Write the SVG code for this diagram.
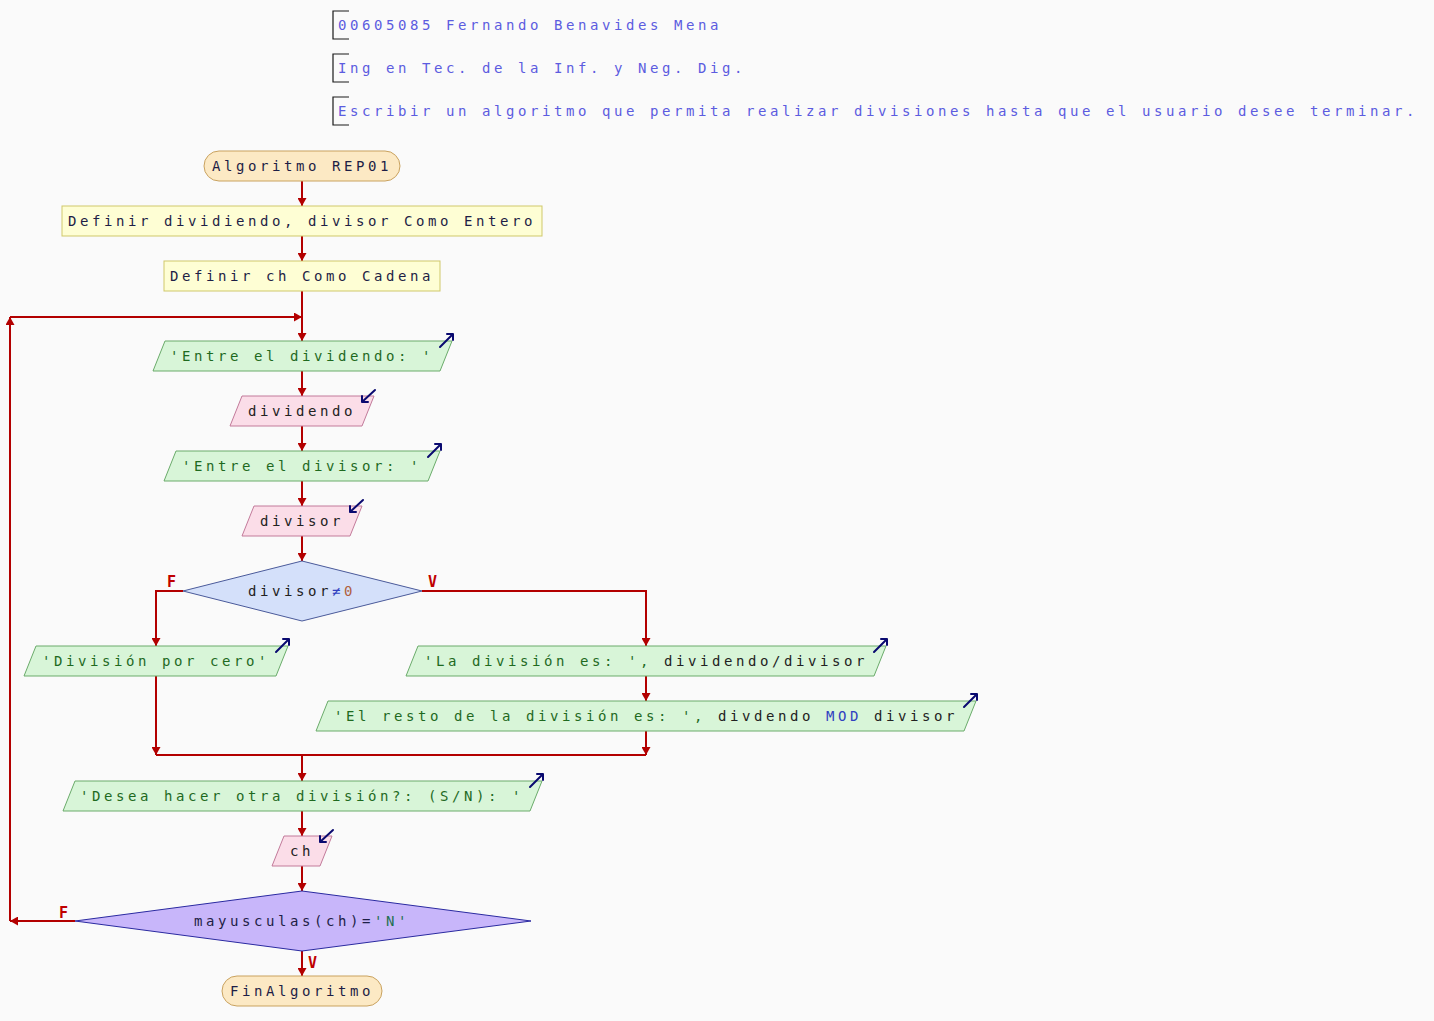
<svg xmlns="http://www.w3.org/2000/svg" width="1434" height="1021" viewBox="0 0 1434 1021">
  <defs>
    <marker id="ah" viewBox="0 0 8 9" refX="8" refY="4.5" markerWidth="8" markerHeight="9" markerUnits="userSpaceOnUse" orient="auto">
      <path d="M0,0 L8,4.5 L0,9 z" fill="#b30000"/>
    </marker>
    <style>
      text { font-family: "DejaVu Sans Mono", "Liberation Mono", monospace; font-size: 14px; letter-spacing: 3.57px; }
      .cm { fill: #5c5ce0; }
      .bk { fill: none; stroke: #1a1a1a; stroke-width: 1.2; }
      .term { fill: #fce9c4; stroke: #c9a25f; stroke-width: 1; }
      .def { fill: #fefed4; stroke: #cfc86a; stroke-width: 1; }
      .out { fill: #d8f5d8; stroke: #6aab6a; stroke-width: 1; }
      .in { fill: #fbdde8; stroke: #c27a9a; stroke-width: 1; }
      .d1 { fill: #d4e0fa; stroke: #4a5a9a; stroke-width: 1; }
      .d2 { fill: #c8b6fa; stroke: #2a2aa0; stroke-width: 1; }
      .tx { fill: #1e1e46; text-anchor: middle; }
      .ts { fill: #1f6a1f; text-anchor: middle; }
      .tv { fill: #222; text-anchor: middle; }
      .kw { fill: #3040c0; }
      .num { fill: #b06040; }
      .str { fill: #1f7050; }
      .ic { fill: none; stroke: #0a0a70; stroke-width: 2; stroke-linecap: round; stroke-linejoin: round; }
      .ln { fill: none; stroke: #b30000; stroke-width: 2; }
      .lb { fill: #c00000; font-weight: bold; font-size: 15px; letter-spacing: 0; }
    </style>
  </defs>

  <rect x="0" y="0" width="1434" height="1021" fill="#fafafa"/>

  <!-- header comments -->
  <g id="comments">
    <path class="bk" d="M349,11 H333 V39 H349"/>
    <text class="cm" x="338" y="30">00605085 Fernando Benavides Mena</text>
    <path class="bk" d="M349,54 H333 V82 H349"/>
    <text class="cm" x="338" y="73">Ing en Tec. de la Inf. y Neg. Dig.</text>
    <path class="bk" d="M349,97 H333 V125 H349"/>
    <text class="cm" x="338" y="116">Escribir un algoritmo que permita realizar divisiones hasta que el usuario desee terminar.</text>
  </g>

  <!-- connectors -->
  <g id="connectors">
    <path class="ln" d="M302,181 V206" marker-end="url(#ah)"/>
    <path class="ln" d="M302,236 V261" marker-end="url(#ah)"/>
    <path class="ln" d="M302,291 V341" marker-end="url(#ah)"/>
    <path class="ln" d="M302,371 V396" marker-end="url(#ah)"/>
    <path class="ln" d="M302,426 V451" marker-end="url(#ah)"/>
    <path class="ln" d="M302,481 V506" marker-end="url(#ah)"/>
    <path class="ln" d="M302,536 V561" marker-end="url(#ah)"/>
    <path class="ln" d="M183,591 H156 V646" marker-end="url(#ah)"/>
    <path class="ln" d="M422,591 H646 V646" marker-end="url(#ah)"/>
    <path class="ln" d="M646,676 V701" marker-end="url(#ah)"/>
    <path class="ln" d="M156,676 V755" marker-end="url(#ah)"/>
    <path class="ln" d="M646,731 V755" marker-end="url(#ah)"/>
    <path class="ln" d="M156,755 H646"/>
    <path class="ln" d="M302,755 V781" marker-end="url(#ah)"/>
    <path class="ln" d="M302,811 V836" marker-end="url(#ah)"/>
    <path class="ln" d="M302,866 V891" marker-end="url(#ah)"/>
    <path class="ln" d="M75,921 H10" marker-end="url(#ah)"/>
    <path class="ln" d="M10,921 V317" marker-end="url(#ah)"/>
    <path class="ln" d="M10,317 H302" marker-end="url(#ah)"/>
    <path class="ln" d="M302,951 V976" marker-end="url(#ah)"/>
    <text class="lb" x="167" y="587">F</text>
    <text class="lb" x="428" y="587">V</text>
    <text class="lb" x="59" y="918">F</text>
    <text class="lb" x="308" y="968">V</text>
  </g>

  <g id="start">
    <rect class="term" x="204" y="151" width="196" height="30" rx="15" ry="15"/>
    <text class="tx" x="302" y="171">Algoritmo REP01</text>
  </g>

  <g id="def1">
    <rect class="def" x="62" y="206" width="480" height="30"/>
    <text class="tx" x="302" y="226">Definir dividiendo, divisor Como Entero</text>
  </g>

  <g id="def2">
    <rect class="def" x="164" y="261" width="276" height="30"/>
    <text class="tx" x="302" y="281">Definir ch Como Cadena</text>
  </g>

  <g id="out1">
    <polygon class="out" points="165,341 452,341 440,371 153,371"/>
    <text class="ts" x="302" y="361">'Entre el dividendo: '</text>
    <path class="ic" d="M440,347 L453,334 M447,334 H453 V340"/>
  </g>

  <g id="in1">
    <polygon class="in" points="242,396 374,396 362,426 230,426"/>
    <text class="tv" x="302" y="416">dividendo</text>
    <path class="ic" d="M375,390 L362,402 M362,396 V402 H368"/>
  </g>

  <g id="out2">
    <polygon class="out" points="176,451 440,451 428,481 164,481"/>
    <text class="ts" x="302" y="471">'Entre el divisor: '</text>
    <path class="ic" d="M428,457 L441,444 M435,444 H441 V450"/>
  </g>

  <g id="in2">
    <polygon class="in" points="254,506 362,506 350,536 242,536"/>
    <text class="tv" x="302" y="526">divisor</text>
    <path class="ic" d="M363,500 L350,512 M350,506 V512 H356"/>
  </g>

  <g id="dec1">
    <polygon class="d1" points="302,561 422,591 302,621 183,591"/>
    <text class="tv" x="302" y="596">divisor<tspan class="kw">≠</tspan><tspan class="num">0</tspan></text>
  </g>

  <g id="outF">
    <polygon class="out" points="36,646 288,646 276,676 24,676"/>
    <text class="ts" x="156" y="666">'División por cero'</text>
    <path class="ic" d="M276,652 L289,639 M283,639 H289 V645"/>
  </g>

  <g id="outV1">
    <polygon class="out" points="418,646 886,646 874,676 406,676"/>
    <text class="ts" x="646" y="666">'La división es: ', <tspan fill="#222">dividendo/divisor</tspan></text>
    <path class="ic" d="M874,652 L887,639 M881,639 H887 V645"/>
  </g>

  <g id="outV2">
    <polygon class="out" points="328,701 976,701 964,731 316,731"/>
    <text class="ts" x="646" y="721">'El resto de la división es: ', <tspan fill="#222">divdendo </tspan><tspan class="kw">MOD</tspan><tspan fill="#222"> divisor</tspan></text>
    <path class="ic" d="M964,707 L977,694 M971,694 H977 V700"/>
  </g>

  <g id="out3">
    <polygon class="out" points="75,781 542,781 530,811 63,811"/>
    <text class="ts" x="302" y="801">'Desea hacer otra división?: (S/N): '</text>
    <path class="ic" d="M530,787 L543,774 M537,774 H543 V780"/>
  </g>

  <g id="in3">
    <polygon class="in" points="284,836 332,836 320,866 272,866"/>
    <text class="tv" x="302" y="856">ch</text>
    <path class="ic" d="M333,830 L320,842 M320,836 V842 H326"/>
  </g>

  <g id="dec2">
    <polygon class="d2" points="302,891 531,921 302,951 75,921"/>
    <text class="tx" x="302" y="926">mayusculas(ch)=<tspan class="str">'N'</tspan></text>
  </g>

  <g id="end">
    <rect class="term" x="222" y="976" width="160" height="30" rx="15" ry="15"/>
    <text class="tx" x="302" y="996">FinAlgoritmo</text>
  </g>
</svg>
